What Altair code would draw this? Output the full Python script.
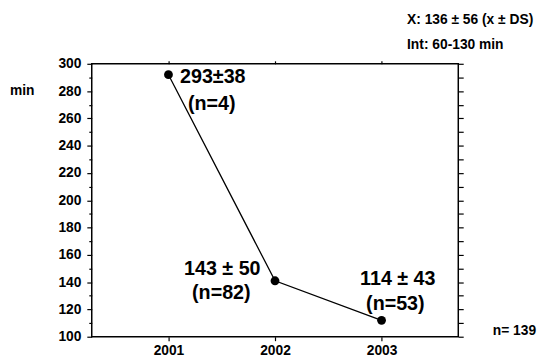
import altair as alt
import pandas as pd

years = [2001, 2002, 2003]
means = [292, 141, 112]
stat_labels = ["293±38", "143 ± 50", "114 ± 43"]
n_labels = ["(n=4)", "(n=82)", "(n=53)"]
x_ticks = [2001, 2002, 2003]
y_major = list(range(100, 301, 20))
y_minor = list(range(110, 300, 20))
y_right = list(range(100, 301, 10))
summary_text = ["X: 136 ± 56 (x ± DS)", "Int: 60-130 min"]
unit_label = "min"
total_label = "n= 139"

df = pd.DataFrame({"year": years, "mean": means, "stat": stat_labels, "n": n_labels})

FONT = "Liberation Sans"
xs = alt.Scale(domain=[2000.28, 2003.72], nice=False, zero=False)
ys = alt.Scale(domain=[100, 300], nice=False, zero=False)

base = alt.Chart(df)

line = base.mark_line(color="black", strokeWidth=1.3).encode(
    x=alt.X("year:Q", scale=xs, axis=alt.Axis(values=x_ticks, format="d", orient="bottom",
                                              tickSize=4, labelPadding=3, title=None)),
    y=alt.Y("mean:Q", scale=ys, axis=alt.Axis(values=y_major, orient="left",
                                              tickSize=5, labelPadding=6, title=None)),
)

points = base.mark_circle(color="black", size=80, opacity=1).encode(
    x=alt.X("year:Q", scale=xs, axis=alt.Axis(values=x_ticks, orient="top", labels=False,
                                              tickSize=3, title=None)),
    y=alt.Y("mean:Q", scale=ys, axis=alt.Axis(values=y_minor, orient="left", labels=False,
                                              tickSize=3, title=None)),
)

right_axis = base.mark_point(opacity=0).encode(
    x=alt.X("year:Q", scale=xs, axis=None),
    y=alt.Y("mean:Q", scale=ys, axis=alt.Axis(values=y_right, orient="right", labels=False,
                                              tickSize=5, title=None)),
)


def point_labels(i, dx1, dy1, dx2, dy2):
    sub = base.transform_filter(alt.datum.year == years[i])
    enc = dict(
        x=alt.X("year:Q", scale=xs, axis=None),
        y=alt.Y("mean:Q", scale=ys, axis=None),
    )
    t1 = sub.mark_text(font=FONT, fontSize=20, fontWeight="bold", color="black",
                       dx=dx1, dy=dy1).encode(text="stat:N", **enc)
    t2 = sub.mark_text(font=FONT, fontSize=20, fontWeight="bold", color="black",
                       dx=dx2, dy=dy2).encode(text="n:N", **enc)
    return [t1, t2]


labels = (point_labels(0, 45, 2.5, 44, 29.5)
          + point_labels(1, -53.5, -12, -54.5, 13)
          + point_labels(2, 16.5, -42, 14, -17))


def free_text(txt, x, y):
    return alt.Chart(pd.DataFrame({"t": [txt]})).mark_text(
        font=FONT, fontSize=14, fontWeight="bold", color="black",
        align="left", baseline="middle",
    ).encode(x=alt.value(x), y=alt.value(y), text="t:N")


extras = [
    free_text(summary_text[0], 320, -44),
    free_text(summary_text[1], 320, -19),
    free_text(unit_label, -83, 28),
    free_text(total_label, 407, 271),
]

chart = alt.layer(line, points, right_axis, *labels, *extras).resolve_axis(
    x="independent", y="independent"
).properties(
    width=372, height=277,
    autosize=alt.AutoSizeParams(type="none"),
    padding={"left": 85, "top": 54, "right": 87, "bottom": 21},
).configure_axis(
    labelFont=FONT, labelFontSize=14, labelFontWeight="bold", labelColor="black",
    tickColor="black", tickWidth=1.2, domain=False, grid=False,
).configure_view(
    stroke="black", strokeWidth=1.5,
)

chart.save("out.html", embed_options={"renderer": "svg", "actions": False})
